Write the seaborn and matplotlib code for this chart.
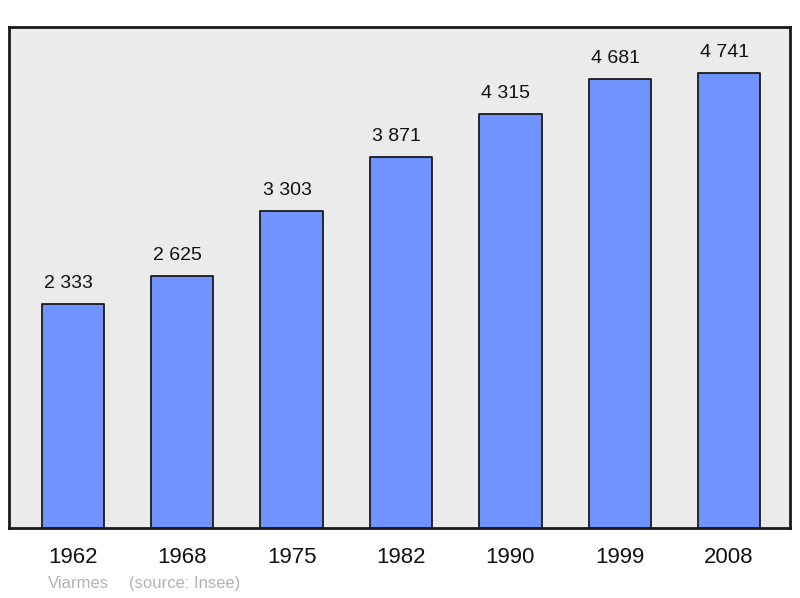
import matplotlib
matplotlib.use("Agg")
import matplotlib.pyplot as plt
import pandas as pd
import seaborn as sns

years = ["1962", "1968", "1975", "1982", "1990", "1999", "2008"]
population = [2333, 2625, 3303, 3871, 4315, 4681, 4741]
town = "Viarmes"
source = "(source: Insee)"

df = pd.DataFrame({"year": years, "pop": population})

sns.set_theme(style="white")
plt.rcParams['font.family'] = ['Liberation Sans', 'DejaVu Sans']

fig = plt.figure(figsize=(8, 5.98), dpi=100)
ax = fig.add_axes([0.01125, 0.117, 0.97625, 0.8378])
ax.set_facecolor('#ebebeb')

sns.barplot(data=df, x="year", y="pop", color="#7094ff", width=0.57,
            edgecolor="#1a1a1a", linewidth=1.3, saturation=1, ax=ax)
for p in ax.patches:
    p.set_joinstyle('round')

labels = [f"{v:,}".replace(",", " ") for v in population]
texts = ax.bar_label(ax.containers[0], labels=labels, padding=8, fontsize=14, color='#111111')
# labels sit a little left of bar centre in the original
for t in texts:
    t.xyann = (-3.2, 8.5)

ax.set_xlim(-0.584, 6.557)
ax.set_ylim(0, 5223)
ax.set_xlabel("")
ax.set_ylabel("")
ax.set_yticks([])
ax.tick_params(axis='x', length=0, pad=14, labelsize=16, labelcolor='#111111')
for s in ax.spines.values():
    s.set_visible(True)
    s.set_color('#1a1a1a')
    s.set_linewidth(2)
    s.set_joinstyle('round')

fig.text(0.06, 0.024, town, fontsize=12, color='#b3b3b3', va='center')
fig.text(0.161, 0.024, source, fontsize=12, color='#b3b3b3', va='center')

fig.savefig("out.png", dpi=100)
